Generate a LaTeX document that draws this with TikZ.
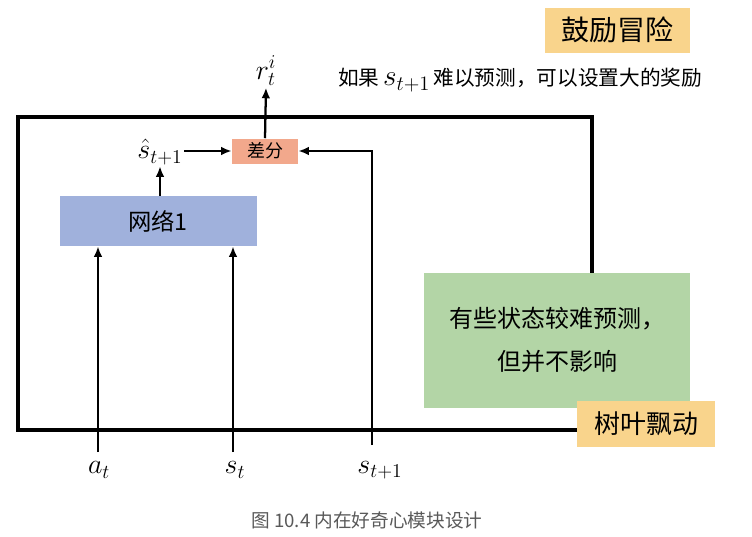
\RequirePackage{fix-cm}
\documentclass[tikz,border=0pt]{standalone}
\usepackage{fontspec}
\setmainfont{Noto Sans CJK SC}
\usetikzlibrary{arrows.meta}
\definecolor{gold}{HTML}{F9D48C}
\definecolor{salmon}{HTML}{F2A88C}
\definecolor{netblue}{HTML}{A0B1DC}
\definecolor{softgreen}{HTML}{B3D5A6}
\definecolor{capgray}{HTML}{595959}
\tikzset{
  box/.style={draw=none, inner sep=0pt, align=center},
  arr/.style={line width=1.7pt, -{Latex[length=8pt,width=6.5pt]}},
  framebox/.style={line width=3pt},
  mathlab/.style={inner sep=1pt, font=\fontsize{21}{24}\selectfont},
}
\begin{document}
\begin{tikzpicture}[x=0.75pt,y=-0.75pt]
\useasboundingbox (0,0) rectangle (752,536);
% frame
\draw[framebox] (18,117) rectangle (592,430);
% nodes
\node[box, fill=gold, minimum width=145*0.75pt, minimum height=45*0.75pt, font=\fontsize{21}{24}\selectfont] (enc) at (617,30) {鼓励冒险};
\node[mathlab] (r) at (266,71) {$r_t^{i}$};
\node[anchor=west, inner sep=0pt, font=\fontsize{15.5}{18}\selectfont] (note) at (338,80) {如果\,{\fontsize{22}{24}\selectfont$s_{t+1}$}\,难以预测，可以设置大的奖励};
\node[box, fill=salmon, minimum width=66*0.75pt, minimum height=25*0.75pt, font=\fontsize{13.5}{16}\selectfont] (diff) at (265,151) {差分};
\node[mathlab] (shat) at (160,152) {$\hat{s}_{t+1}$};
\node[box, fill=netblue, minimum width=197*0.75pt, minimum height=50*0.75pt, font=\fontsize{17.5}{20}\selectfont] (net) at (158,221) {网络1};
\node[box, fill=softgreen, minimum width=266*0.75pt, minimum height=135*0.75pt, font=\fontsize{18}{32}\selectfont] (green) at (557,340) {有些状态较难预测，\\但并不影响};
\node[box, fill=gold, minimum width=138*0.75pt, minimum height=46*0.75pt, font=\fontsize{19.5}{22}\selectfont] (leaf) at (646,424) {树叶飘动};
% inputs
\coordinate (a0) at (98,452);
\coordinate (s0) at (233,452);
\coordinate (s10) at (372,445);
\node[mathlab] (alab) at (99,470) {$a_t$};
\node[mathlab] (slab) at (235,470) {$s_t$};
\node[mathlab] (s1lab) at (380,470) {$s_{t+1}$};
% connectors
\draw[arr] (diff.north) -- (r.south);
\draw[arr] (shat.east |- diff.west) -- (diff.west);
\draw[arr] (net.north -| shat.south) -- (shat.south);
\draw[arr] (a0) -- (a0 |- net.south);
\draw[arr] (s0) -- (s0 |- net.south);
\draw[arr] (s10) |- (diff.east);
% caption
\node[text=capgray, font=\fontsize{14}{16}\selectfont] (cap) at (367,520) {图 10.4 内在好奇心模块设计};
\end{tikzpicture}
\end{document}
